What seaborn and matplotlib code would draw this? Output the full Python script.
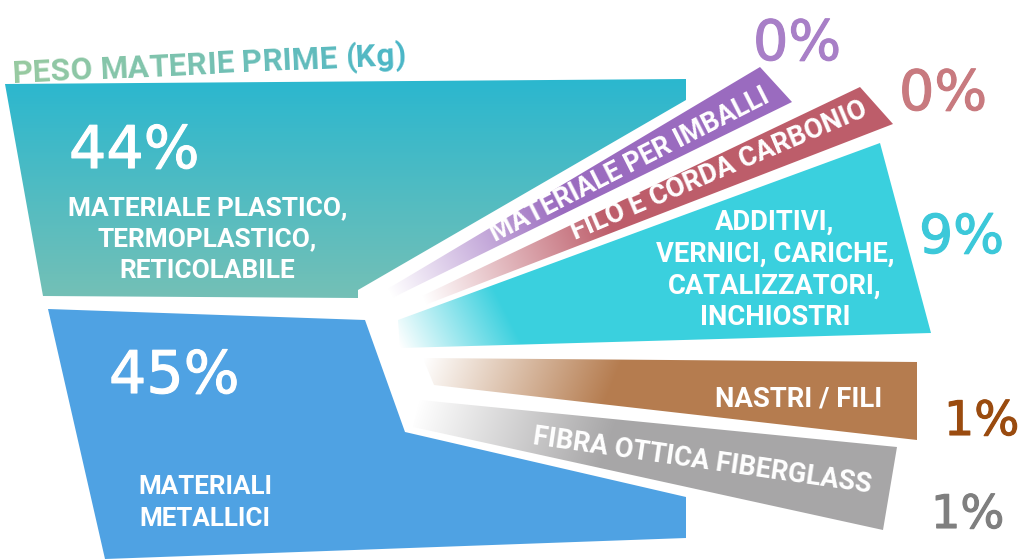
import numpy as np
import matplotlib
matplotlib.use("Agg")
import matplotlib.pyplot as plt
import matplotlib.patheffects as pe
import seaborn as sns
from matplotlib.patches import Polygon
from matplotlib.colors import to_rgb

# dati
titolo = "PESO MATERIE PRIME (Kg)"
categorie = [
    "MATERIALE PLASTICO,\nTERMOPLASTICO,\nRETICOLABILE",
    "MATERIALI\nMETALLICI",
    "MATERIALE PER IMBALLI",
    "FILO E CORDA CARBONIO",
    "ADDITIVI,\nVERNICI, CARICHE,\nCATALIZZATORI,\nINCHIOSTRI",
    "NASTRI / FILI",
    "FIBRA OTTICA FIBERGLASS",
]
percentuali = [44, 45, 0, 0, 9, 1, 1]
colori = ["#2bb7cf", "#4fa2e3", "#9a6bbf", "#bd5d6a", "#3ad0de", "#b57c4f", "#a7a6a7"]
colori_pct = ["white", "white", "#a87fc7", "#c87a7f", "#3cc8d9", "#9a4b0f", "#7f7f7f"]

# layout (pixel, y verso il basso)
W, H = 1022, 560
forme = [
    [(5, 84), (686, 79), (686, 100), (358, 290), (358, 298), (43, 296)],
    [(48, 309), (365, 320), (405, 432), (686, 497), (686, 538), (105, 559)],
    [(384, 291), (760, 67), (792, 102), (390, 299)],
    [(420, 297), (860, 87), (893, 124), (425, 305)],
    [(398, 320), (880, 143), (931, 333), (400, 348)],
    [(423, 358), (917, 362), (917, 440), (434, 385)],
    [(420, 400), (897, 447), (883, 530), (413, 427)],
]
# colore chiaro iniziale, punto inizio / fine sfumatura
sfumature = [
    ("#74c0b6", (0, 298), (0, 80)),
    (None, None, None),
    ("white", (392, 296), (560, 205)),
    ("white", (425, 302), (610, 225)),
    ("white", (402, 350), (500, 300)),
    ("white", (430, 345), (600, 415)),
    ("white", (418, 405), (600, 470)),
]
PESO = "bold"

sns.set_theme(style="white")
plt.rcParams["font.family"] = ["Roboto", "DejaVu Sans"]

fig = plt.figure(figsize=(W / 100, H / 100), dpi=100)
ax = fig.add_axes([0, 0, 1, 1])
ax.set_axis_off()
renderer = fig.canvas.get_renderer()


def poligono(pts, c0, c1, p0, p1, z=1):
    verts = [(x, H - y) for x, y in pts]
    patch = Polygon(verts, closed=True, fc="none", ec="none", zorder=z)
    ax.add_patch(patch)
    xs = [p[0] for p in pts]
    ys = [p[1] for p in pts]
    x0, x1 = int(min(xs)) - 1, int(max(xs)) + 2
    y0, y1 = int(min(ys)) - 1, int(max(ys)) + 2
    gx, gy = np.meshgrid(np.arange(x0, x1) + 0.5, np.arange(y0, y1) + 0.5)
    if p0 is None:
        t = np.ones_like(gx)
    else:
        d = np.subtract(p1, p0).astype(float)
        t = ((gx - p0[0]) * d[0] + (gy - p0[1]) * d[1]) / (d @ d)
        t = np.clip(t, 0, 1)
    t = t[..., None]
    img = (1 - t) * np.array(to_rgb(c0)) + t * np.array(to_rgb(c1))
    im = ax.imshow(img, extent=(x0, x1, H - y1, H - y0), origin="upper",
                   interpolation="bilinear", aspect="auto", zorder=z)
    im.set_clip_path(patch)


def testo(x, y, s, larghezza, rot=0, family=None, **kw):
    if family is not None:
        kw["family"] = family
    t = ax.text(x, H - y, s, fontsize=20, va="baseline", zorder=5, **kw)
    w = t.get_window_extent(renderer).width
    t.set_fontsize(20 * larghezza / w)
    if rot:
        t.set_rotation(rot)
        t.set_rotation_mode("anchor")
    return t


# forme
for pts, col, (cs, p0, p1) in zip(forme, colori, sfumature):
    if cs is None:
        poligono(pts, col, col, None, None)
    else:
        poligono(pts, cs, col, p0, p1)

# titolo con sfumatura lettera per lettera
ang = 2.7
tmp = ax.text(0, 0, titolo, fontsize=20, weight=PESO)
fs_t = 20 * 394 / tmp.get_window_extent(renderer).width
tmp.remove()
cols_t = sns.blend_palette(["#96c9a0", "#4ab6c7"], len(titolo))
ref = ax.text(0, 0, "I", fontsize=fs_t, weight=PESO)
w_ref = ref.get_window_extent(renderer).width
ref.remove()
x_t, y_t = 13, H - 83
ca, sa = np.cos(np.radians(ang)), np.sin(np.radians(ang))
for i, ch in enumerate(titolo):
    pre = ax.text(0, 0, titolo[:i] + "I", fontsize=fs_t, weight=PESO)
    off = pre.get_window_extent(renderer).width - w_ref if i else 0
    pre.remove()
    ax.text(x_t + off * ca, y_t + off * sa, ch, fontsize=fs_t, weight=PESO,
            color=cols_t[i], rotation=ang, rotation_mode="anchor",
            ha="left", va="baseline", zorder=5)

# percentuali
pct_pos = [(69, 168, 130), (109, 393, 130), (753, 60, 88), (899, 110, 88),
           (919, 253, 85), (944, 435, 75), (931, 528, 73)]
for v, c, (x, y, w) in zip(percentuali, colori_pct, pct_pos):
    t = testo(x, y, f"{v}%", w, family="DejaVu Sans", color=c, ha="left")
    t.set_path_effects([pe.withStroke(linewidth=0.8, foreground=c)])

# etichette multi-riga
def blocco(label, cx, y0, passo, w_ref_line):
    righe = label.split("\n")
    tref = ax.text(0, 0, righe[w_ref_line[0]], fontsize=20, weight=PESO)
    fs = 20 * w_ref_line[1] / tref.get_window_extent(renderer).width
    tref.remove()
    for k, r in enumerate(righe):
        ax.text(cx, H - (y0 + k * passo), r, fontsize=fs, weight=PESO,
                color="white", ha="center", va="baseline", zorder=5)

blocco(categorie[0], 207.5, 215, 31.5, (0, 279))
blocco(categorie[1], 205, 494, 32, (0, 134))
blocco(categorie[4], 775, 230, 31.7, (1, 239))

# etichette ruotate
testo(495, 242, categorie[2], 310, rot=27, weight=PESO, color="white", ha="left")
testo(575, 240, categorie[3], 318, rot=23, weight=PESO, color="white", ha="left")
testo(882, 406, categorie[5], 167, weight=PESO, color="white", ha="right")
testo(532, 444, categorie[6], 341, rot=-8.2, weight=PESO, color="white", ha="left")

ax.set_xlim(0, W)
ax.set_ylim(0, H)
fig.savefig("out.png", dpi=100)
